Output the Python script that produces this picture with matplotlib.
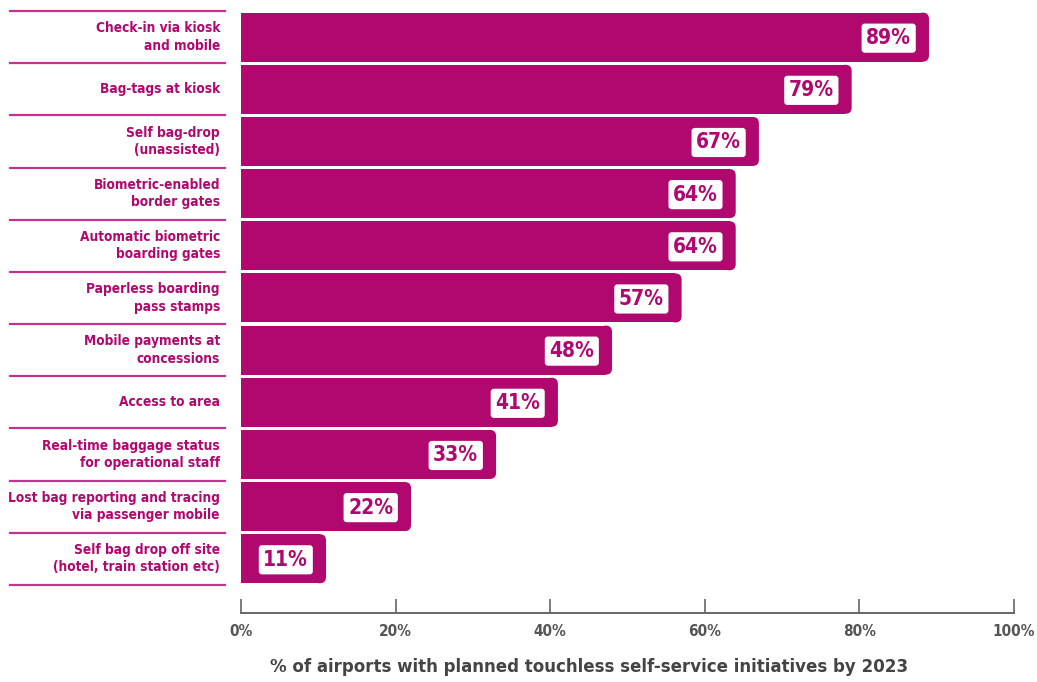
import numpy as np
import matplotlib
matplotlib.use("Agg")
import matplotlib.pyplot as plt
from matplotlib.patches import FancyBboxPatch
from matplotlib.transforms import blended_transform_factory

plt.rcParams['font.family'] = ['DejaVu Sans']
plt.rcParams['font.stretch'] = 'condensed'

categories = [
    "Check-in via kiosk\nand mobile",
    "Bag-tags at kiosk",
    "Self bag-drop\n(unassisted)",
    "Biometric-enabled\nborder gates",
    "Automatic biometric\nboarding gates",
    "Paperless boarding\npass stamps",
    "Mobile payments at\nconcessions",
    "Access to area",
    "Real-time baggage status\nfor operational staff",
    "Lost bag reporting and tracing\nvia passenger mobile",
    "Self bag drop off site\n(hotel, train station etc)",
]
values = [89, 79, 67, 64, 64, 57, 48, 41, 33, 22, 11]
xticks = [0, 20, 40, 60, 80, 100]
xlabel = "% of airports with planned touchless self-service initiatives by 2023"

bar_color = "#B0086E"
line_color = "#C4348E"
axis_color = "#666666"

W, H = 1037, 682
fig = plt.figure(figsize=(W / 100, H / 100), dpi=100)
ax = fig.add_axes([241 / W, (H - 613) / H, (1014 - 241) / W, (613 - 10) / H])

y = np.arange(len(values))
h = 0.94
rx = 0.8
ry = 0.12
vals = np.array(values, dtype=float)

# bars: square left end, rounded right end
ax.barh(y, vals - rx, height=h, color=bar_color, linewidth=0)
for yi, v in zip(y, vals):
    p = FancyBboxPatch((v - 2 * rx, yi - h / 2), 2 * rx, h,
                       boxstyle=f"round,pad=0,rounding_size={rx}",
                       mutation_aspect=ry / rx,
                       facecolor=bar_color, edgecolor="none")
    ax.add_patch(p)
    ax.text(v - 2.3, yi + 0.02, f"{int(v)}%", ha="right", va="center",
            fontsize=15, fontweight="bold", color=bar_color,
            bbox=dict(boxstyle="round,pad=0.22,rounding_size=0.15",
                      fc="white", ec="none"))

ax.set_xlim(0, 100)
ax.set_ylim(11.04, -0.52)

# category labels and separators
tr = blended_transform_factory(ax.transAxes, ax.transData)
x_lab = (220 - 241) / 773
x0 = (10 - 241) / 773
x1 = (225 - 241) / 773
for yi, cat in zip(y, categories):
    ax.text(x_lab, yi, cat, transform=tr, ha="right", va="center",
            fontsize=9.8, fontweight="bold", color=bar_color,
            linespacing=1.3)
for k in range(len(values) + 1):
    ax.plot([x0, x1], [k - 0.5, k - 0.5], transform=tr, color=line_color,
            lw=1.6, clip_on=False)

for s in ["top", "right", "left"]:
    ax.spines[s].set_visible(False)
ax.spines["bottom"].set_color(axis_color)
ax.spines["bottom"].set_linewidth(1.4)
ax.set_yticks([])
ax.set_xticks(xticks)
ax.set_xticklabels([f"{t}%" for t in xticks], fontsize=11,
                   fontweight="bold", color="#555555")
ax.tick_params(axis="x", direction="in", length=10, width=1.2,
               color=axis_color, pad=8)
ax.set_xlabel(xlabel, fontsize=13.3, fontweight="bold", color="#444444",
              labelpad=14)
ax.xaxis.set_label_coords((589 - 241) / 773, -0.075)

fig.savefig("out.png", dpi=100)
